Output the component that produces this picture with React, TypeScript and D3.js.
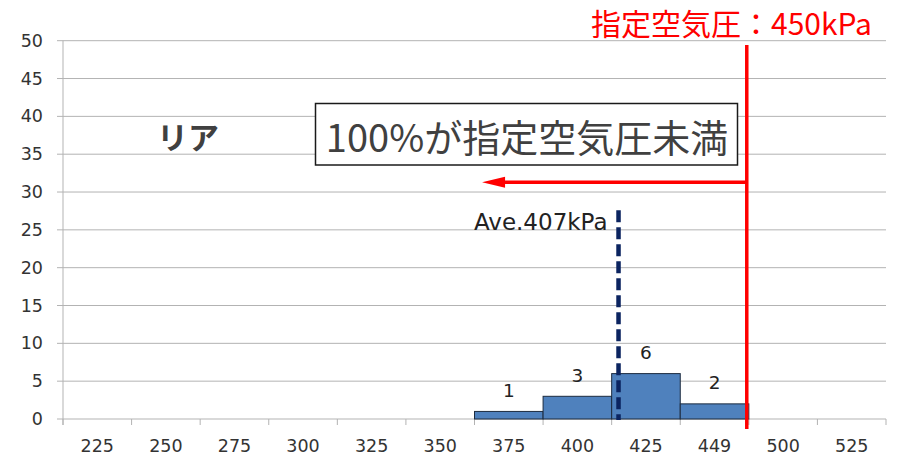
import React from "react";
import * as d3 from "d3";

const categories = ["225", "250", "275", "300", "325", "350", "375", "400", "425", "449", "500", "525"];
const counts = [0, 0, 0, 0, 0, 0, 1, 3, 6, 2, 0, 0];
const yTicks = [0, 5, 10, 15, 20, 25, 30, 35, 40, 45, 50];
const specLabel = "指定空気圧：450kPa";
const aveLabel = "Ave.407kPa";
const boxLabel = "100%が指定空気圧未満";
const sideLabel = "リア";

const W = 905;
const H = 462;
const LEFT = 63;
const RIGHT = 886;
const TOP = 40.7;
const BOTTOM = 419;

export default function App() {
  const x = d3.scaleBand<string>().domain(categories).range([LEFT, RIGHT]).padding(0);
  const y = d3.scaleLinear().domain([0, 50]).range([BOTTOM, TOP]);
  const bw = x.bandwidth();

  const specX = (x("449") as number) + bw * 0.97;
  const aveX = (x("425") as number) + bw * 0.1;
  const arrowY = y(31.3);
  const arrowTip = (x("375") as number) + bw * 0.11;

  const boundaries = categories.map((c) => x(c) as number).concat([RIGHT]);
  const axisFont = "'DejaVu Sans', 'Noto Sans CJK JP', sans-serif";
  const cjkFont = "'Noto Sans CJK JP', 'Noto Sans', sans-serif";

  return (
    <svg
      width={W}
      height={H}
      style={{ position: "absolute", left: 0, top: 0, background: "#fff" }}
    >
      <rect x={0} y={0} width={W} height={H} fill="#fff" />
      {yTicks.map((t) => (
        <line
          key={"g" + t}
          x1={LEFT - 6}
          x2={RIGHT}
          y1={y(t)}
          y2={y(t)}
          stroke="#b3b3b3"
          strokeWidth={1}
        />
      ))}
      <line x1={LEFT} x2={LEFT} y1={TOP} y2={BOTTOM + 6} stroke="#b3b3b3" strokeWidth={1} />
      {boundaries.map((b, i) => (
        <line key={"xt" + i} x1={b} x2={b} y1={BOTTOM} y2={BOTTOM + 6} stroke="#b3b3b3" strokeWidth={1} />
      ))}
      {yTicks.map((t) => (
        <text
          key={"yl" + t}
          x={43}
          y={y(t)}
          textAnchor="end"
          dominantBaseline="central"
          fontFamily={axisFont}
          fontSize={17.5}
          fill="#333"
        >
          {t}
        </text>
      ))}
      {categories.map((c) => (
        <text
          key={"xl" + c}
          x={(x(c) as number) + bw / 2}
          y={446}
          textAnchor="middle"
          dominantBaseline="central"
          fontFamily={axisFont}
          fontSize={17.5}
          fill="#333"
        >
          {c}
        </text>
      ))}
      {categories.map((c, i) =>
        counts[i] > 0 ? (
          <g key={"b" + c}>
            <rect
              x={x(c) as number}
              y={y(counts[i])}
              width={bw}
              height={y(0) - y(counts[i])}
              fill="#4f81bd"
              stroke="#1c2b3f"
              strokeWidth={1}
            />
            <text
              x={(x(c) as number) + bw / 2}
              y={y(counts[i]) - 21}
              textAnchor="middle"
              dominantBaseline="central"
              fontFamily={axisFont}
              fontSize={18.5}
              fill="#222"
            >
              {counts[i]}
            </text>
          </g>
        ) : null
      )}
      <line
        x1={aveX}
        x2={aveX}
        y1={y(27.6)}
        y2={BOTTOM + 1}
        stroke="#0b2460"
        strokeWidth={4.5}
        strokeDasharray="12,5"
      />
      <text
        x={aveX - 11}
        y={230}
        textAnchor="end"
        fontFamily={axisFont}
        fontSize={23}
        fill="#222"
      >
        {aveLabel}
      </text>
      <line x1={specX} x2={specX} y1={45} y2={429} stroke="#ff0000" strokeWidth={3.5} />
      <line x1={specX} x2={arrowTip + 20} y1={arrowY} y2={arrowY} stroke="#ff0000" strokeWidth={3.5} />
      <path
        d={`M${arrowTip},${arrowY} L${arrowTip + 23},${arrowY - 5.5} L${arrowTip + 23},${arrowY + 5.5} Z`}
        fill="#ff0000"
      />
      <text
        x={872}
        y={35}
        textAnchor="end"
        fontFamily={cjkFont}
        fontSize={30}
        fill="#ff0000"
      >
        {specLabel}
      </text>
      <rect x={315.5} y={103.5} width={422} height={61.5} fill="#fff" stroke="#1a1a1a" strokeWidth={1.5} />
      <text
        x={527}
        y={135}
        textAnchor="middle"
        dominantBaseline="central"
        fontFamily={cjkFont}
        fontSize={38}
        fill="#404040"
      >
        {boxLabel}
      </text>
      <text x={157} y={149} fontFamily={cjkFont} fontWeight={700} fontSize={31} fill="#404040">
        {sideLabel}
      </text>
    </svg>
  );
}
